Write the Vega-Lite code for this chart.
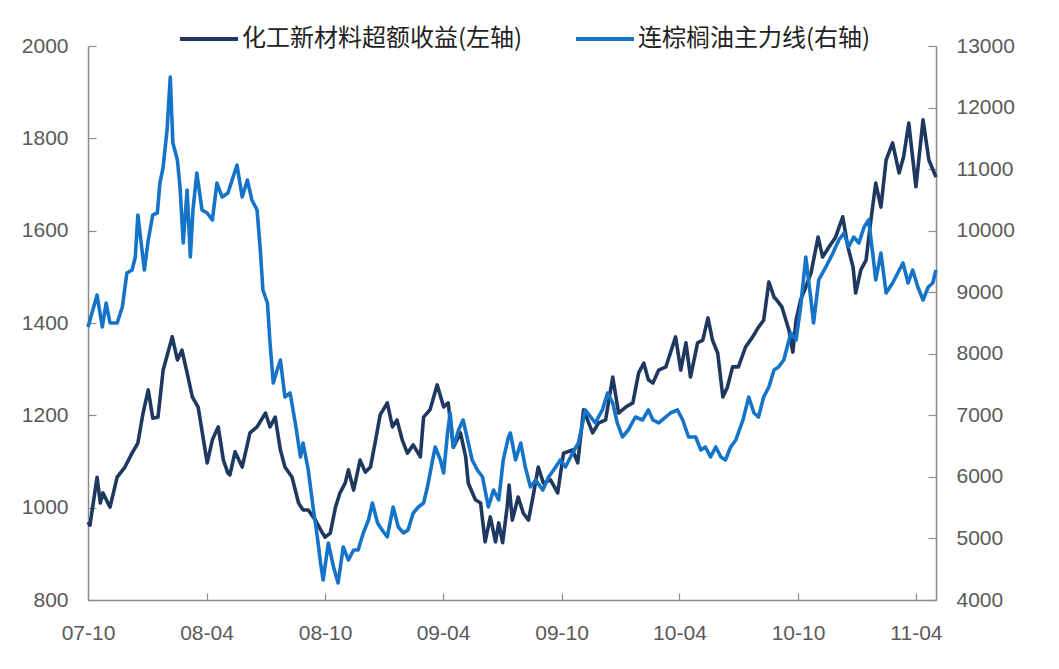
{
  "$schema": "https://vega.github.io/schema/vega-lite/v6.json",
  "width": 848,
  "height": 554,
  "autosize": {"type": "none"},
  "padding": {"left": 88, "top": 46, "right": 123, "bottom": 69},
  "background": "white",
  "config": {
    "view": {"stroke": null},
    "font": "Liberation Sans",
    "axis": {
      "grid": false,
      "labelColor": "#595959",
      "labelFontSize": 21,
      "labelFont": "Liberation Sans",
      "domainColor": "#8c8c8c",
      "tickColor": "#8c8c8c",
      "domainWidth": 1.5,
      "tickWidth": 1.2,
      "title": null
    },
    "legend": {
      "orient": "none",
      "legendX": 90,
      "legendY": -38,
      "direction": "horizontal",
      "padding": 0,
      "symbolType": "stroke",
      "symbolSize": 3364,
      "symbolStrokeWidth": 4,
      "labelFont": "Noto Sans CJK SC",
      "labelFontSize": 24,
      "labelColor": "#222222",
      "labelOffset": 2,
      "columnPadding": 45,
      "labelLimit": 400,
      "title": null
    }
  },
  "datasets": {
    "a": [
      {"d":"2007-10-01","v":969},{"d":"2007-10-04","v":962},{"d":"2007-10-15","v":1066},{"d":"2007-10-20","v":1010},{"d":"2007-10-24","v":1032},{"d":"2007-11-04","v":1001},{"d":"2007-11-15","v":1066},{"d":"2007-11-27","v":1088},{"d":"2007-12-08","v":1118},{"d":"2007-12-17","v":1140},{"d":"2007-12-25","v":1205},{"d":"2008-01-02","v":1255},{"d":"2008-01-09","v":1194},{"d":"2008-01-17","v":1196},{"d":"2008-01-25","v":1298},{"d":"2008-02-08","v":1370},{"d":"2008-02-16","v":1320},{"d":"2008-02-23","v":1341},{"d":"2008-03-02","v":1292},{"d":"2008-03-10","v":1240},{"d":"2008-03-19","v":1218},{"d":"2008-04-02","v":1097},{"d":"2008-04-10","v":1147},{"d":"2008-04-19","v":1175},{"d":"2008-04-27","v":1103},{"d":"2008-05-04","v":1075},{"d":"2008-05-07","v":1071},{"d":"2008-05-15","v":1121},{"d":"2008-05-26","v":1088},{"d":"2008-06-07","v":1162},{"d":"2008-06-18","v":1175},{"d":"2008-07-01","v":1205},{"d":"2008-07-08","v":1175},{"d":"2008-07-16","v":1196},{"d":"2008-07-24","v":1125},{"d":"2008-07-31","v":1088},{"d":"2008-08-11","v":1066},{"d":"2008-08-21","v":1010},{"d":"2008-08-28","v":995},{"d":"2008-09-05","v":995},{"d":"2008-09-16","v":973},{"d":"2008-09-27","v":945},{"d":"2008-10-01","v":936},{"d":"2008-10-09","v":945},{"d":"2008-10-17","v":1001},{"d":"2008-10-24","v":1032},{"d":"2008-11-01","v":1053},{"d":"2008-11-06","v":1082},{"d":"2008-11-14","v":1038},{"d":"2008-11-24","v":1103},{"d":"2008-12-02","v":1077},{"d":"2008-12-10","v":1088},{"d":"2008-12-18","v":1147},{"d":"2008-12-25","v":1201},{"d":"2009-01-05","v":1227},{"d":"2009-01-13","v":1175},{"d":"2009-01-20","v":1190},{"d":"2009-01-28","v":1147},{"d":"2009-02-05","v":1118},{"d":"2009-02-14","v":1136},{"d":"2009-02-25","v":1110},{"d":"2009-03-02","v":1196},{"d":"2009-03-12","v":1212},{"d":"2009-03-23","v":1266},{"d":"2009-04-02","v":1218},{"d":"2009-04-09","v":1227},{"d":"2009-04-17","v":1131},{"d":"2009-04-28","v":1162},{"d":"2009-05-06","v":1110},{"d":"2009-05-10","v":1053},{"d":"2009-05-21","v":1017},{"d":"2009-05-29","v":1010},{"d":"2009-06-05","v":926},{"d":"2009-06-13","v":980},{"d":"2009-06-21","v":926},{"d":"2009-06-26","v":967},{"d":"2009-07-02","v":924},{"d":"2009-07-09","v":1001},{"d":"2009-07-12","v":1049},{"d":"2009-07-17","v":973},{"d":"2009-07-26","v":1023},{"d":"2009-08-03","v":988},{"d":"2009-08-11","v":973},{"d":"2009-08-19","v":1032},{"d":"2009-08-26","v":1088},{"d":"2009-09-03","v":1053},{"d":"2009-09-14","v":1060},{"d":"2009-09-25","v":1032},{"d":"2009-10-04","v":1118},{"d":"2009-10-18","v":1125},{"d":"2009-10-26","v":1097},{"d":"2009-11-04","v":1212},{"d":"2009-11-18","v":1162},{"d":"2009-11-27","v":1183},{"d":"2009-12-08","v":1190},{"d":"2009-12-19","v":1283},{"d":"2009-12-28","v":1205},{"d":"2010-01-08","v":1218},{"d":"2010-01-19","v":1227},{"d":"2010-01-28","v":1292},{"d":"2010-02-05","v":1313},{"d":"2010-02-12","v":1277},{"d":"2010-02-19","v":1270},{"d":"2010-02-28","v":1298},{"d":"2010-03-11","v":1305},{"d":"2010-03-18","v":1335},{"d":"2010-03-26","v":1370},{"d":"2010-04-03","v":1298},{"d":"2010-04-11","v":1357},{"d":"2010-04-18","v":1283},{"d":"2010-04-29","v":1357},{"d":"2010-05-07","v":1363},{"d":"2010-05-15","v":1411},{"d":"2010-05-22","v":1363},{"d":"2010-05-30","v":1335},{"d":"2010-06-07","v":1240},{"d":"2010-06-14","v":1261},{"d":"2010-06-22","v":1305},{"d":"2010-07-01","v":1305},{"d":"2010-07-12","v":1348},{"d":"2010-07-23","v":1370},{"d":"2010-08-01","v":1391},{"d":"2010-08-09","v":1406},{"d":"2010-08-17","v":1489},{"d":"2010-08-25","v":1456},{"d":"2010-08-29","v":1450},{"d":"2010-09-06","v":1435},{"d":"2010-09-17","v":1385},{"d":"2010-09-23","v":1337},{"d":"2010-09-28","v":1406},{"d":"2010-10-05","v":1450},{"d":"2010-10-13","v":1478},{"d":"2010-10-21","v":1508},{"d":"2010-11-01","v":1586},{"d":"2010-11-08","v":1543},{"d":"2010-11-18","v":1565},{"d":"2010-11-28","v":1586},{"d":"2010-12-09","v":1630},{"d":"2010-12-17","v":1565},{"d":"2010-12-25","v":1521},{"d":"2010-12-29","v":1465},{"d":"2011-01-06","v":1515},{"d":"2011-01-14","v":1536},{"d":"2011-01-21","v":1617},{"d":"2011-01-29","v":1703},{"d":"2011-02-06","v":1651},{"d":"2011-02-14","v":1753},{"d":"2011-02-24","v":1790},{"d":"2011-03-06","v":1725},{"d":"2011-03-13","v":1760},{"d":"2011-03-21","v":1833},{"d":"2011-04-01","v":1695},{"d":"2011-04-12","v":1840},{"d":"2011-04-21","v":1753},{"d":"2011-05-02","v":1716}
    ],
    "b": [
      {"d":"2007-10-01","v":8435},{"d":"2007-10-15","v":8955},{"d":"2007-10-23","v":8435},{"d":"2007-10-29","v":8825},{"d":"2007-11-04","v":8500},{"d":"2007-11-15","v":8500},{"d":"2007-11-23","v":8760},{"d":"2007-11-30","v":9312},{"d":"2007-12-08","v":9361},{"d":"2007-12-13","v":9572},{"d":"2007-12-17","v":10255},{"d":"2007-12-27","v":9361},{"d":"2008-01-02","v":9848},{"d":"2008-01-09","v":10255},{"d":"2008-01-16","v":10287},{"d":"2008-01-20","v":10774},{"d":"2008-01-25","v":11034},{"d":"2008-01-31","v":11635},{"d":"2008-02-05","v":12496},{"d":"2008-02-09","v":11424},{"d":"2008-02-16","v":11148},{"d":"2008-02-20","v":10710},{"d":"2008-02-25","v":9800},{"d":"2008-03-02","v":10661},{"d":"2008-03-07","v":9572},{"d":"2008-03-11","v":10336},{"d":"2008-03-17","v":10937},{"d":"2008-03-25","v":10336},{"d":"2008-04-02","v":10287},{"d":"2008-04-10","v":10173},{"d":"2008-04-17","v":10774},{"d":"2008-04-25","v":10547},{"d":"2008-05-04","v":10612},{"d":"2008-05-18","v":11067},{"d":"2008-05-26","v":10547},{"d":"2008-06-03","v":10823},{"d":"2008-06-10","v":10498},{"d":"2008-06-18","v":10336},{"d":"2008-06-23","v":9686},{"d":"2008-06-27","v":9036},{"d":"2008-07-04","v":8825},{"d":"2008-07-08","v":8175},{"d":"2008-07-13","v":7525},{"d":"2008-07-19","v":7737},{"d":"2008-07-24","v":7899},{"d":"2008-07-31","v":7298},{"d":"2008-08-08","v":7363},{"d":"2008-08-16","v":6876},{"d":"2008-08-24","v":6323},{"d":"2008-08-28","v":6551},{"d":"2008-09-05","v":6112},{"d":"2008-09-13","v":5462},{"d":"2008-09-19","v":5024},{"d":"2008-09-24","v":4601},{"d":"2008-09-28","v":4325},{"d":"2008-10-06","v":4926},{"d":"2008-10-14","v":4536},{"d":"2008-10-21","v":4276},{"d":"2008-10-29","v":4861},{"d":"2008-11-06","v":4650},{"d":"2008-11-14","v":4813},{"d":"2008-11-21","v":4813},{"d":"2008-11-29","v":5089},{"d":"2008-12-07","v":5300},{"d":"2008-12-13","v":5576},{"d":"2008-12-21","v":5251},{"d":"2008-12-28","v":5137},{"d":"2009-01-05","v":5024},{"d":"2009-01-14","v":5511},{"d":"2009-01-22","v":5186},{"d":"2009-01-30","v":5089},{"d":"2009-02-06","v":5137},{"d":"2009-02-14","v":5414},{"d":"2009-02-22","v":5511},{"d":"2009-03-02","v":5576},{"d":"2009-03-08","v":5836},{"d":"2009-03-16","v":6275},{"d":"2009-03-20","v":6486},{"d":"2009-03-28","v":6275},{"d":"2009-04-02","v":6063},{"d":"2009-04-08","v":6713},{"d":"2009-04-12","v":7038},{"d":"2009-04-17","v":6486},{"d":"2009-04-25","v":6762},{"d":"2009-05-02","v":6924},{"d":"2009-05-09","v":6600},{"d":"2009-05-16","v":6275},{"d":"2009-05-24","v":6112},{"d":"2009-06-01","v":5998},{"d":"2009-06-10","v":5511},{"d":"2009-06-18","v":5787},{"d":"2009-06-26","v":5625},{"d":"2009-07-03","v":6275},{"d":"2009-07-11","v":6648},{"d":"2009-07-14","v":6713},{"d":"2009-07-22","v":6275},{"d":"2009-07-30","v":6551},{"d":"2009-08-06","v":6161},{"d":"2009-08-14","v":5836},{"d":"2009-08-22","v":5950},{"d":"2009-09-02","v":5787},{"d":"2009-09-11","v":5998},{"d":"2009-09-22","v":6161},{"d":"2009-09-29","v":6275},{"d":"2009-10-07","v":6161},{"d":"2009-10-18","v":6388},{"d":"2009-10-27","v":6551},{"d":"2009-11-07","v":7087},{"d":"2009-11-15","v":6973},{"d":"2009-11-22","v":6876},{"d":"2009-12-03","v":7087},{"d":"2009-12-11","v":7363},{"d":"2009-12-19","v":7200},{"d":"2009-12-26","v":6876},{"d":"2010-01-03","v":6648},{"d":"2010-01-12","v":6762},{"d":"2010-01-23","v":6973},{"d":"2010-02-03","v":6924},{"d":"2010-02-12","v":7087},{"d":"2010-02-19","v":6924},{"d":"2010-02-28","v":6876},{"d":"2010-03-11","v":6973},{"d":"2010-03-18","v":7038},{"d":"2010-03-29","v":7087},{"d":"2010-04-06","v":6924},{"d":"2010-04-15","v":6648},{"d":"2010-04-26","v":6648},{"d":"2010-05-04","v":6437},{"d":"2010-05-11","v":6486},{"d":"2010-05-19","v":6323},{"d":"2010-05-27","v":6486},{"d":"2010-06-04","v":6323},{"d":"2010-06-11","v":6275},{"d":"2010-06-19","v":6486},{"d":"2010-06-27","v":6600},{"d":"2010-07-08","v":6924},{"d":"2010-07-17","v":7298},{"d":"2010-07-25","v":7038},{"d":"2010-08-01","v":6973},{"d":"2010-08-09","v":7298},{"d":"2010-08-17","v":7460},{"d":"2010-08-25","v":7737},{"d":"2010-09-01","v":7785},{"d":"2010-09-09","v":7899},{"d":"2010-09-20","v":8338},{"d":"2010-09-28","v":8224},{"d":"2010-10-05","v":8760},{"d":"2010-10-13","v":9572},{"d":"2010-10-21","v":8874},{"d":"2010-10-25","v":8500},{"d":"2010-11-02","v":9199},{"d":"2010-11-13","v":9410},{"d":"2010-11-24","v":9637},{"d":"2010-12-03","v":9848},{"d":"2010-12-11","v":9962},{"d":"2010-12-18","v":9735},{"d":"2010-12-26","v":9897},{"d":"2011-01-03","v":9800},{"d":"2011-01-11","v":10060},{"d":"2011-01-18","v":10173},{"d":"2011-01-25","v":9572},{"d":"2011-01-29","v":9199},{"d":"2011-02-06","v":9637},{"d":"2011-02-14","v":8987},{"d":"2011-02-24","v":9150},{"d":"2011-03-04","v":9312},{"d":"2011-03-12","v":9475},{"d":"2011-03-20","v":9150},{"d":"2011-03-27","v":9361},{"d":"2011-04-04","v":9085},{"d":"2011-04-12","v":8874},{"d":"2011-04-20","v":9085},{"d":"2011-04-27","v":9150},{"d":"2011-05-02","v":9361}
    ]
  },
  "encoding": {
    "x": {
      "field": "d",
      "type": "temporal",
      "scale": {
        "type": "utc",
        "domain": [
          {"year": 2007, "month": 10, "date": 1, "utc": true},
          {"year": 2011, "month": 5, "date": 2, "utc": true}
        ]
      },
      "axis": {
        "orient": "bottom",
        "labelExpr": "utcFormat(datum.value, '%y-%m')",
        "values": [
          {"year": 2007, "month": 10, "date": 1, "utc": true},
          {"year": 2008, "month": 4, "date": 1, "utc": true},
          {"year": 2008, "month": 10, "date": 1, "utc": true},
          {"year": 2009, "month": 4, "date": 1, "utc": true},
          {"year": 2009, "month": 10, "date": 1, "utc": true},
          {"year": 2010, "month": 4, "date": 1, "utc": true},
          {"year": 2010, "month": 10, "date": 1, "utc": true},
          {"year": 2011, "month": 4, "date": 1, "utc": true}
        ],
        "tickSize": -7,
        "labelPadding": 29,
        "labelFlush": false,
        "labelOverlap": false
      }
    }
  },
  "layer": [
    {
      "data": {"name": "a"},
      "mark": {"type": "line", "strokeWidth": 3.6, "strokeJoin": "round"},
      "encoding": {
        "y": {
          "field": "v",
          "type": "quantitative",
          "scale": {"domain": [800, 2000], "nice": false, "zero": false},
          "axis": {
            "orient": "left",
            "format": "d",
            "values": [800, 1000, 1200, 1400, 1600, 1800, 2000],
            "tickSize": -8,
            "labelPadding": 28
          }
        },
        "color": {
          "datum": "化工新材料超额收益(左轴)",
          "type": "nominal",
          "scale": {
            "domain": ["化工新材料超额收益(左轴)", "连棕榈油主力线(右轴)"],
            "range": ["#1f3860", "#1574c8"]
          }
        }
      }
    },
    {
      "data": {"name": "b"},
      "mark": {"type": "line", "strokeWidth": 3.6, "strokeJoin": "round"},
      "encoding": {
        "y": {
          "field": "v",
          "type": "quantitative",
          "scale": {"domain": [4000, 13000], "nice": false, "zero": false},
          "axis": {
            "orient": "right",
            "format": "d",
            "values": [4000, 5000, 6000, 7000, 8000, 9000, 10000, 11000, 12000, 13000],
            "tickSize": -8,
            "labelPadding": 28
          }
        },
        "color": {
          "datum": "连棕榈油主力线(右轴)",
          "type": "nominal"
        }
      }
    }
  ],
  "resolve": {"scale": {"y": "independent"}}
}
